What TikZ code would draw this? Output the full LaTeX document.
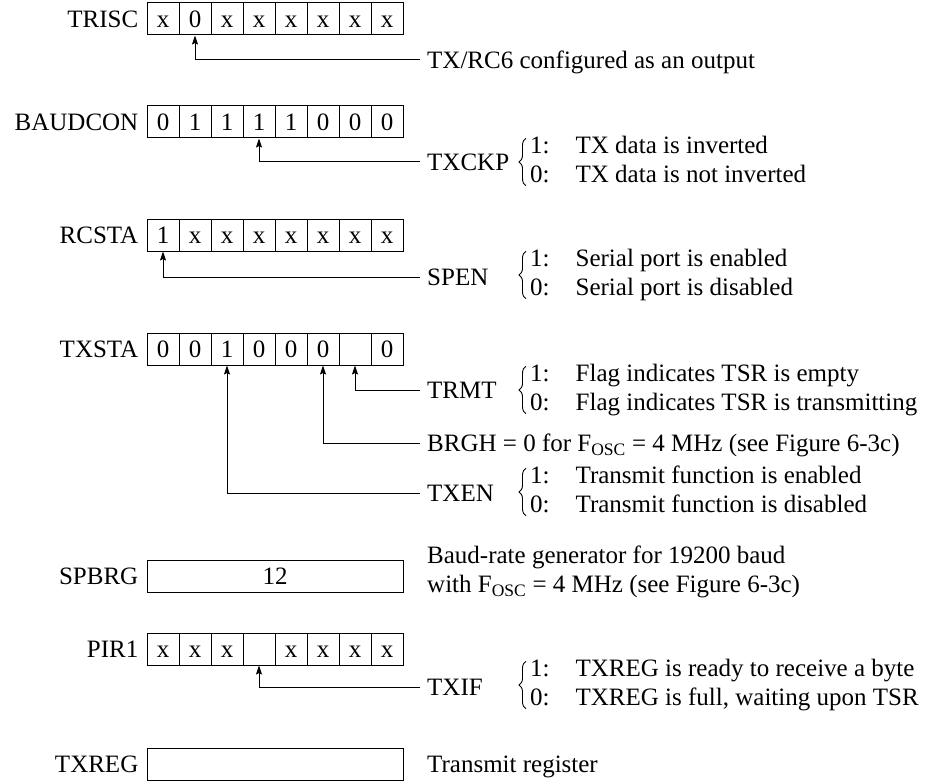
\documentclass[tikz,border=0pt]{standalone}
\usepackage{fontspec}
\setmainfont{Liberation Serif}
\usetikzlibrary{positioning,arrows.meta,decorations.pathreplacing}
\tikzset{bit node/.style={draw, line width=1pt, minimum width=32pt, minimum height=32pt, inner sep=0pt, text height=17pt, text depth=0pt}, }
\tikzset{reg node/.style={draw, line width=1pt, minimum width=256pt, minimum height=32pt, inner sep=0pt, text height=17pt, text depth=0pt}, }
\tikzset{reg name/.style={inner sep=0pt, text height=22pt, text depth=5pt}, }
\tikzset{field name/.style={anchor=west, inner xsep=7pt, inner ysep=0pt, text height=22pt, text depth=5pt}, }
\tikzset{flag list/.style={anchor=west, inner sep=0pt}, }
\tikzset{flag brace/.style={decorate, decoration={brace, amplitude=7pt}, line width=0.9pt}, }
\tikzset{field arrow/.style={line width=1pt, -{Stealth[length=9pt, width=6pt, inset=1.5pt]}}, }
\newcommand{\flagrows}[2]{\begin{tabular}{@{}l@{\hspace{26pt}}l@{}}1: & #1\\ 0: & #2\end{tabular}}

\begin{document}
\begin{tikzpicture}[x=1pt, y=-1pt, font=\fontsize{25}{29.5}\selectfont]
	\useasboundingbox (0,0) rectangle (932,781);
	% TRISC
	\foreach \b [count=\i] in {x,0,x,x,x,x,x,x}
		\node[bit node] (trisc\i) at (131+32*\i, 19) {\b};
	\node[reg name] (trisc) [left=8pt of trisc1] {TRISC};
	\node[field name] (txout) at (420, 60) {TX/RC6 configured as an output};
	\draw[field arrow] (txout.west) -| (trisc2.south);
	% BAUDCON
	\foreach \b [count=\i] in {0,1,1,1,1,0,0,0}
		\node[bit node] (baudcon\i) at (131+32*\i, 122) {\b};
	\node[reg name] (baudcon) [left=8pt of baudcon1] {BAUDCON};
	\node[field name] (txckp) at (420, 162) {TXCKP};
	\node[flag list] (txckpbits) at (530, 162) {\flagrows{TX data is inverted}{TX data is not inverted}};
	\draw[flag brace] ([xshift=-4pt, yshift=6pt]txckpbits.south west) -- ([xshift=-4pt, yshift=-6pt]txckpbits.north west);
	\draw[field arrow] (txckp.west) -| (baudcon4.south);
	% RCSTA
	\foreach \b [count=\i] in {1,x,x,x,x,x,x,x}
		\node[bit node] (rcsta\i) at (131+32*\i, 235) {\b};
	\node[reg name] (rcsta) [left=8pt of rcsta1] {RCSTA};
	\node[field name] (spen) at (420, 277) {SPEN};
	\node[flag list] (spenbits) at (530, 275) {\flagrows{Serial port is enabled}{Serial port is disabled}};
	\draw[flag brace] ([xshift=-4pt, yshift=6pt]spenbits.south west) -- ([xshift=-4pt, yshift=-6pt]spenbits.north west);
	\draw[field arrow] (spen.west) -| (rcsta1.south);
	% TXSTA
	\foreach \b [count=\i] in {0,0,1,0,0,0,{},0}
		\node[bit node] (txsta\i) at (131+32*\i, 349) {\b};
	\node[reg name] (txsta) [left=8pt of txsta1] {TXSTA};
	\node[field name] (trmt) at (420, 390) {TRMT};
	\node[flag list] (trmtbits) at (530, 390) {\flagrows{Flag indicates TSR is empty}{Flag indicates TSR is transmitting}};
	\draw[flag brace] ([xshift=-4pt, yshift=6pt]trmtbits.south west) -- ([xshift=-4pt, yshift=-6pt]trmtbits.north west);
	\draw[field arrow] (trmt.west) -| (txsta7.south);
	\node[field name] (brgh) at (420, 443) {BRGH = 0 for F\textsubscript{OSC} = 4 MHz (see Figure 6-3c)};
	\draw[field arrow] (brgh.west) -| (txsta6.south);
	\node[field name] (txen) at (420, 493) {TXEN};
	\node[flag list] (txenbits) at (530, 492) {\flagrows{Transmit function is enabled}{Transmit function is disabled}};
	\draw[flag brace] ([xshift=-4pt, yshift=6pt]txenbits.south west) -- ([xshift=-4pt, yshift=-6pt]txenbits.north west);
	\draw[field arrow] (txen.west) -| (txsta3.south);
	% SPBRG
	\node[reg node] (spbrg) at (275, 576) {12};
	\node[reg name] (spbrgname) [left=8pt of spbrg] {SPBRG};
	\node[anchor=west, align=left, inner xsep=7pt] (baud) at (420, 572) {Baud-rate generator for 19200 baud\\with F\textsubscript{OSC} = 4 MHz (see Figure 6-3c)};
	% PIR1
	\foreach \b [count=\i] in {x,x,x,{},x,x,x,x}
		\node[bit node] (pir\i) at (131+32*\i, 649) {\b};
	\node[reg name] (pir) [left=8pt of pir1] {PIR1};
	\node[field name] (txif) at (420, 687) {TXIF};
	\node[flag list] (txifbits) at (530, 685) {\flagrows{TXREG is ready to receive a byte}{TXREG is full, waiting upon TSR}};
	\draw[flag brace] ([xshift=-4pt, yshift=6pt]txifbits.south west) -- ([xshift=-4pt, yshift=-6pt]txifbits.north west);
	\draw[field arrow] (txif.west) -| (pir4.south);
	% TXREG
	\node[reg node] (txreg) at (275, 764) {};
	\node[reg name] (txregname) [left=8pt of txreg] {TXREG};
	\node[field name] (txregnote) at (420, 764) {Transmit register};
\end{tikzpicture}
\end{document}
